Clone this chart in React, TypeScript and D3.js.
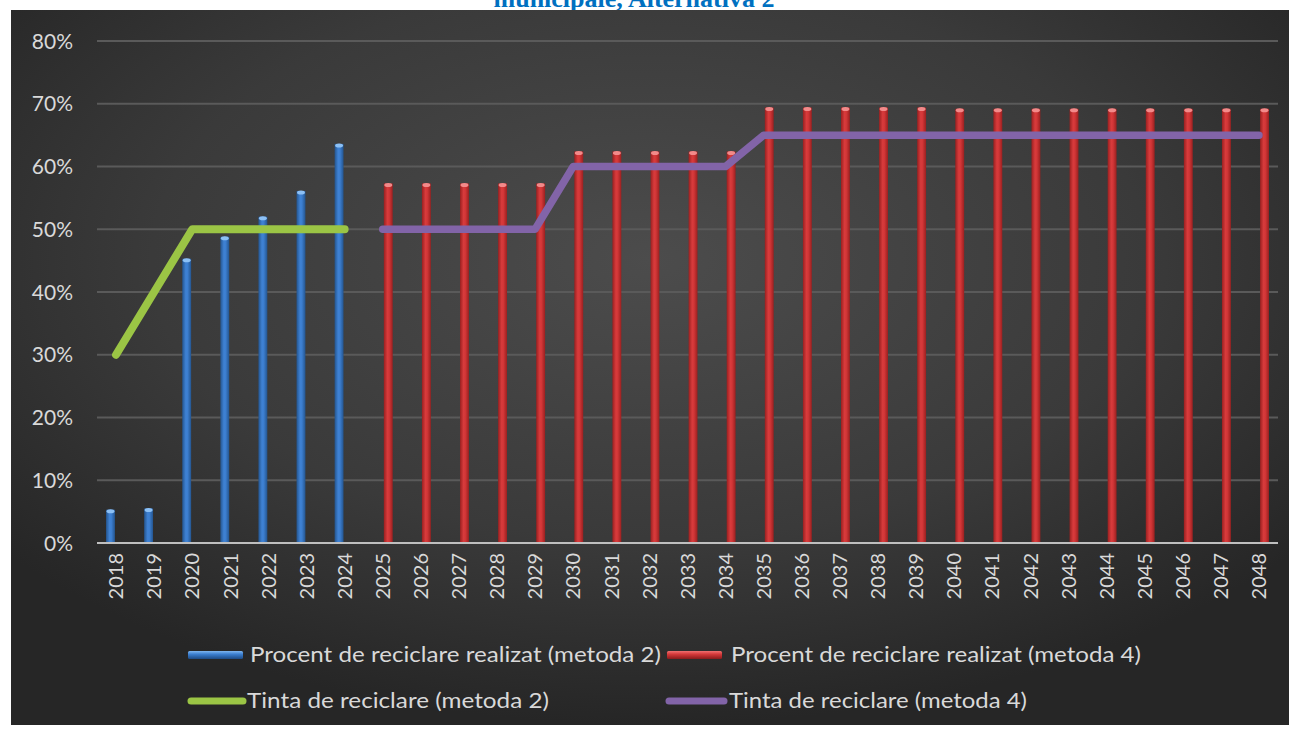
import React from "react";
import * as d3 from "d3";

const years: string[] = [
  "2018","2019","2020","2021","2022","2023","2024","2025","2026","2027","2028","2029","2030",
  "2031","2032","2033","2034","2035","2036","2037","2038","2039","2040","2041","2042","2043",
  "2044","2045","2046","2047","2048",
];
// Procent de reciclare realizat (metoda 2)
const realizedM2: (number | null)[] = [
  0.053, 0.055, 0.453, 0.488, 0.52, 0.561, 0.636, null, null, null, null, null, null, null, null, null,
  null, null, null, null, null, null, null, null, null, null, null, null, null, null, null,
];
// Procent de reciclare realizat (metoda 4)
const realizedM4: (number | null)[] = [
  null, null, null, null, null, null, null, 0.573, 0.573, 0.573, 0.573, 0.573, 0.624, 0.624, 0.624,
  0.624, 0.624, 0.694, 0.694, 0.694, 0.694, 0.694, 0.692, 0.692, 0.692, 0.692, 0.692, 0.692, 0.692,
  0.692, 0.692,
];
// Tinta de reciclare (metoda 2)
const targetM2: (number | null)[] = [
  0.3, 0.4, 0.5, 0.5, 0.5, 0.5, 0.5, null, null, null, null, null, null, null, null, null, null,
  null, null, null, null, null, null, null, null, null, null, null, null, null, null,
];
// Tinta de reciclare (metoda 4)
const targetM4: (number | null)[] = [
  null, null, null, null, null, null, null, 0.5, 0.5, 0.5, 0.5, 0.5, 0.6, 0.6, 0.6, 0.6, 0.6, 0.65,
  0.65, 0.65, 0.65, 0.65, 0.65, 0.65, 0.65, 0.65, 0.65, 0.65, 0.65, 0.65, 0.65,
];
const yTicks: number[] = [0, 0.1, 0.2, 0.3, 0.4, 0.5, 0.6, 0.7, 0.8];
const seriesNames: string[] = [
  "Procent de reciclare realizat (metoda 2)",
  "Procent de reciclare realizat (metoda 4)",
  "Tinta de reciclare (metoda 2)",
  "Tinta de reciclare (metoda 4)",
];
const titleText = "municipale, Alternativa 2";

const FONT = "Lato, 'Open Sans', sans-serif";
const TXT = "#d9d9d9";

export default function App() {
  const x = d3.scaleBand<string>().domain(years).range([97, 1278]).padding(0);
  const y = d3.scaleLinear().domain([0, 0.8]).range([543, 41]);
  const bw = x.bandwidth();
  const x1 = d3
    .scaleBand<string>()
    .domain(["m2", "m4"])
    .range([bw / 2 - 10, bw / 2 + 10])
    .paddingInner(0.2);
  const barW = x1.bandwidth();

  const line = d3
    .line<number | null>()
    .defined((d) => d !== null)
    .x((_, i) => (x(years[i]) as number) + bw / 2)
    .y((d) => y(d as number));

  const bars = (vals: (number | null)[], key: string, grad: string, cap: string) =>
    vals.map((v, i) => {
      if (v === null) return null;
      const bx = (x(years[i]) as number) + (x1(key) as number);
      const top = y(v);
      return (
        <g key={key + i}>
          <rect x={bx} y={top} width={barW} height={y(0) - top} fill={`url(#${grad})`} />
          <ellipse cx={bx + barW / 2} cy={top + 1.5} rx={barW / 2 - 0.5} ry={2} fill={cap} />
        </g>
      );
    });

  const legendText = (tx: number, ty: number, s: string, len: number) => (
    <text
      x={tx}
      y={ty}
      dy="0.36em"
      fontFamily={FONT}
      fontSize={20.5}
      fill={TXT}
      textLength={len}
      lengthAdjust="spacingAndGlyphs"
    >
      {s}
    </text>
  );

  return (
    <svg
      width={1296}
      height={731}
      style={{ position: "absolute", left: 0, top: 0, background: "#ffffff" }}
    >
      <defs>
        <radialGradient id="bg" cx="50%" cy="35%" r="65%" fx="50%" fy="35%">
          <stop offset="0%" stopColor="#4c4c4c" />
          <stop offset="60%" stopColor="#3a3a3a" />
          <stop offset="100%" stopColor="#262626" />
        </radialGradient>
        <linearGradient id="gBlue" x1="0" x2="1" y1="0" y2="0">
          <stop offset="0%" stopColor="#24558f" />
          <stop offset="40%" stopColor="#3f82d4" />
          <stop offset="60%" stopColor="#3c7ecf" />
          <stop offset="100%" stopColor="#24558f" />
        </linearGradient>
        <linearGradient id="gRed" x1="0" x2="1" y1="0" y2="0">
          <stop offset="0%" stopColor="#9a2020" />
          <stop offset="40%" stopColor="#d83b3c" />
          <stop offset="60%" stopColor="#d23637" />
          <stop offset="100%" stopColor="#9a2020" />
        </linearGradient>
        <linearGradient id="lBlue" x1="0" x2="0" y1="0" y2="1">
          <stop offset="0%" stopColor="#7fb6f0" />
          <stop offset="40%" stopColor="#3b7fd0" />
          <stop offset="100%" stopColor="#1d4a84" />
        </linearGradient>
        <linearGradient id="lRed" x1="0" x2="0" y1="0" y2="1">
          <stop offset="0%" stopColor="#f07070" />
          <stop offset="40%" stopColor="#d5393a" />
          <stop offset="100%" stopColor="#8a1b1b" />
        </linearGradient>
      </defs>

      <text
        x={634}
        y={7}
        textAnchor="middle"
        fontFamily="'Liberation Serif', 'Times New Roman', serif"
        fontWeight="bold"
        fontSize={26}
        fill="#0070c0"
      >
        {titleText}
      </text>

      <rect x={11} y={10} width={1278} height={715} fill="url(#bg)" />

      {yTicks.map((t) => (
        <g key={t}>
          {t > 0 && (
            <line x1={97} x2={1278} y1={y(t)} y2={y(t)} stroke="#5a5a5a" strokeWidth={2} />
          )}
          <text
            x={73}
            y={y(t)}
            dy="0.36em"
            textAnchor="end"
            fontFamily={FONT}
            fontSize={21}
            fill={TXT}
          >
            {d3.format(".0%")(t)}
          </text>
        </g>
      ))}

      {bars(realizedM2, "m2", "gBlue", "#8cc0f5")}
      {bars(realizedM4, "m4", "gRed", "#f28a8a")}

      <line x1={97} x2={1278} y1={y(0)} y2={y(0)} stroke="#bfbfbf" strokeWidth={2} />

      {years.map((yr) => (
        <text
          key={yr}
          transform={`translate(${(x(yr) as number) + bw / 2},${553}) rotate(-90)`}
          dy="0.36em"
          textAnchor="end"
          fontFamily={FONT}
          fontSize={20}
          fill={TXT}
        >
          {yr}
        </text>
      ))}

      <path
        d={line(targetM2) || ""}
        fill="none"
        stroke="#9bc545"
        strokeWidth={8}
        strokeLinecap="round"
        strokeLinejoin="round"
      />
      <path
        d={line(targetM4) || ""}
        fill="none"
        stroke="#8264a8"
        strokeWidth={7.5}
        strokeLinecap="round"
        strokeLinejoin="round"
      />

      {/* legend */}
      <rect x={188} y={651} width={55} height={8} rx={1.5} fill="url(#lBlue)" />
      {legendText(250, 655, seriesNames[0], 411)}
      <rect x={667} y={651} width={55} height={8} rx={1.5} fill="url(#lRed)" />
      {legendText(731, 655, seriesNames[1], 410)}
      <line x1={191} x2={243} y1={701} y2={701} stroke="#9bc545" strokeWidth={7} strokeLinecap="round" />
      {legendText(247, 701, seriesNames[2], 302)}
      <line x1={669} x2={724} y1={701} y2={701} stroke="#8264a8" strokeWidth={7} strokeLinecap="round" />
      {legendText(729, 701, seriesNames[3], 298)}
    </svg>
  );
}
